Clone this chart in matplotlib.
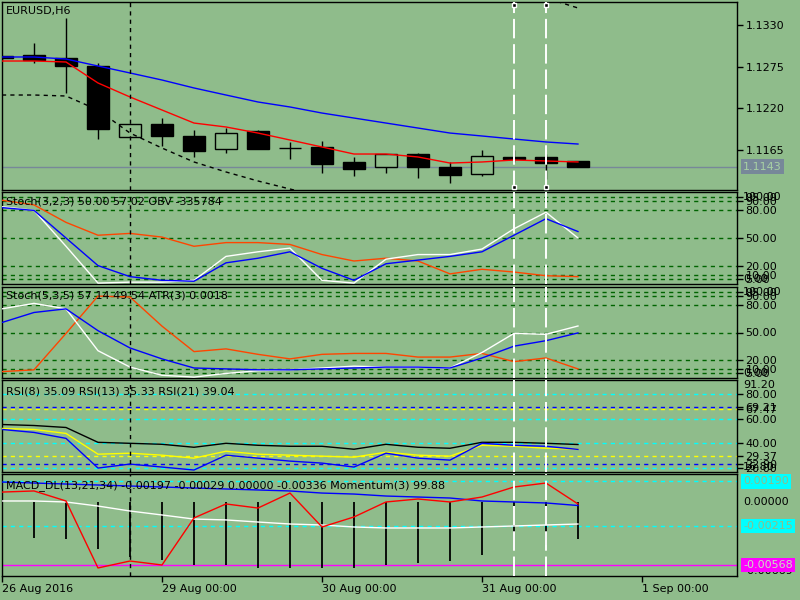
import matplotlib
matplotlib.use('Agg')
import matplotlib.pyplot as plt
import numpy as np

BG = '#8FBC8B'
nan = np.nan

# H6 bars, index 0 = 26 Aug 2016 00:00 ... index 18 = 31 Aug 18:00
opens = [1.12891, 1.12904, 1.12865, 1.12759, 1.11822, 1.11993, 1.11835, 1.11663, 1.11901, 1.11680,
         1.11690, 1.11492, 1.11426, 1.11597, 1.11426, 1.11333, 1.11558, 1.11558, 1.11505]
highs = [1.12891, 1.13063, 1.13393, 1.12799, 1.11993, 1.12072, 1.11914, 1.11940, 1.11914, 1.11756,
         1.11769, 1.11558, 1.11597, 1.11610, 1.11492, 1.11650, 1.11650, 1.11597, 1.11505]
lows = [1.12825, 1.12799, 1.12403, 1.11795, 1.11822, 1.11703, 1.11558, 1.11610, 1.11663, 1.11531,
        1.11346, 1.11307, 1.11346, 1.11280, 1.11214, 1.11307, 1.11492, 1.11267, 1.11430]
closes = [1.12865, 1.12838, 1.12759, 1.11927, 1.11993, 1.11835, 1.11637, 1.11874, 1.11663, 1.11676,
          1.11465, 1.11399, 1.11597, 1.11426, 1.11320, 1.11571, 1.11531, 1.11478, 1.11430]
ma_fast = [1.12825, 1.12825, 1.12812, 1.12535, 1.12350, 1.12178, 1.12006, 1.11954, 1.11874, 1.11782,
           1.11690, 1.11597, 1.11597, 1.11558, 1.11478, 1.11492, 1.11518, 1.11505, 1.11492]
ma_slow = [1.12878, 1.12878, 1.12851, 1.12759, 1.12667, 1.12574, 1.12469, 1.12376, 1.12284, 1.12218,
           1.12138, 1.12072, 1.12006, 1.11940, 1.11874, 1.11835, 1.11795, 1.11756, 1.11729]
env_lower = [1.12376, 1.12376, 1.12363, 1.12178, 1.11874, 1.11676, 1.11492, 1.11360, 1.11241, 1.11135,
             1.11030, nan, nan, nan, nan, nan, nan, nan, nan]
env_upper = [nan] * 17 + [1.13657, 1.13525]
last_price = 1.1143
price_ticks = [1.1165, 1.1220, 1.1275, 1.1330]

# Stoch(3,2,3) + OBV (OBV drawn in panel units)
st1_main = [84, 80, 41, 1, 2, 2, 4, 30, 35, 39, 4, 1, 27, 32, 32, 38, 60, 78, 50.00]
st1_sig = [83, 80, 50, 20, 8, 4, 3, 23, 28, 35, 17, 4, 22, 26, 30, 35, 53, 71, 57.02]
st1_obv = [91, 86, 67, 53, 55, 51, 41, 45, 45, 43, 32, 25, 28, 25, 11, 16, 13, 9, 8]

# Stoch(5,3,5) + ATR (ATR drawn in panel units)
st2_main = [76, 82, 76, 30, 12, 3, 1, 5, 8, 9, 11, 13, 12, 12, 11, 28, 49, 48, 57.14]
st2_sig = [61, 72, 76, 52, 33, 21, 11, 10, 9, 9, 10, 11, 12, 12, 11, 22, 35, 41, 49.54]
st2_atr = [7, 9, 49, 90, 89, 57, 29, 32, 26, 21, 26, 27, 27, 23, 23, 27, 18, 22, 10]
stoch_levels = [5, 10, 20, 50, 80, 90, 95]

# RSI(8), RSI(13), RSI(21)
rsi8 = [51.2, 48.8, 44.0, 20.0, 23.2, 20.8, 18.4, 30.4, 28.0, 25.6, 24.0, 20.8, 32.0, 28.0, 26.4,
        40.0, 38.4, 37.6, 35.09]
rsi13 = [52.0, 51.2, 48.0, 31.2, 32.0, 30.4, 28.0, 33.6, 31.2, 30.4, 29.6, 28.8, 32.8, 30.4, 29.6,
         38.4, 37.6, 36.0, 35.33]
rsi21 = [55.2, 54.4, 52.8, 40.8, 40.0, 39.2, 36.8, 40.0, 38.4, 37.6, 37.6, 35.2, 39.2, 36.8, 36.0,
         40.8, 40.8, 40.0, 39.04]
rsi_cyan = [20, 40, 60, 80]
rsi_yellow = [29.37, 67.47]
rsi_blue = [22.90, 69.21]

# MACD_DL(13,21,34) + Momentum(3) (momentum drawn in panel units)
macd_main = [0.00012, 0.00012, 0.00003, -0.00034, -0.00079, -0.00115, -0.00152, -0.00160, -0.00179,
             -0.00197, -0.00206, -0.00224, -0.00233, -0.00233, -0.00233, -0.00224, -0.00215, -0.00206,
             -0.00197]
macd_sig = [0.00184, 0.00175, 0.00166, 0.00157, 0.00148, 0.00139, 0.00130, 0.00121, 0.00112, 0.00103,
            0.00084, 0.00075, 0.00057, 0.00048, 0.00039, 0.00012, 0.00003, -0.00006, -0.00029]
macd_hist = [-0.00310, -0.00321, -0.00333, -0.00424, -0.00493, -0.00523, -0.00569, -0.00569, -0.00593,
             -0.00593, -0.00599, -0.00599, -0.00569, -0.00548, -0.00530, -0.00478, -0.00433, -0.00387,
             -0.00336]
momentum = [0.00093, 0.00103, 0.00012, -0.00596, -0.00533, -0.00569, -0.00142, -0.00015, -0.00052,
            0.00084, -0.00224, -0.00133, 0.00003, 0.00030, 0.00003, 0.00048, 0.00139, 0.00175, -0.00015]
macd_levels = [0.00190, -0.00215]
macd_low = -0.00568

date_ticks = [0, 5, 10, 15, 20]
date_labels = ['26 Aug 2016', '29 Aug 00:00', '30 Aug 00:00', '31 Aug 00:00', '1 Sep 00:00']

x = np.arange(len(closes))

fig = plt.figure(figsize=(8, 6), dpi=100, facecolor=BG)


def panel(top, bottom):
    ax = fig.add_axes([2 / 800, 1 - bottom / 600, 735 / 800, (bottom - top) / 600], facecolor=BG)
    for s in ax.spines.values():
        s.set_color('black')
        s.set_linewidth(1)
    ax.set_xlim(0, 22.97)
    ax.tick_params(axis='y', direction='out', length=4, width=1, labelsize=8, pad=2,
                   right=True, left=False, labelright=True, labelleft=False, colors='black')
    ax.tick_params(axis='x', bottom=False, labelbottom=False)
    return ax


def title(ax, txt, dy=-4):
    ax.annotate(txt, xy=(0, 1), xycoords='axes fraction', xytext=(4, dy),
                textcoords='offset pixels', ha='left', va='top', fontsize=8, zorder=10)


def side_label(ax, y, txt, fc=None, tc='black', va='center'):
    kw = dict(xy=(1, y), xycoords=('axes fraction', 'data'), xytext=(6, 0),
              textcoords='offset pixels', ha='left', va=va, fontsize=8, color=tc,
              annotation_clip=False, zorder=10)
    if fc:
        kw['bbox'] = dict(boxstyle='square,pad=0.2', fc=fc, ec='none')
    ax.annotate(txt, **kw)


level_ls = (0, (3, 3))

# ---- price panel
ax_p = panel(2, 190)
ax_p.set_ylim(1.11122, 1.13604)
ax_p.axhline(last_price, color='#778899', lw=1, zorder=1)
ax_p.vlines(x, lows, highs, color='black', lw=1, zorder=2)
o = np.array(opens)
c = np.array(closes)
bot = np.minimum(o, c)
hgt = np.maximum(np.abs(c - o), 0.00002)
faces = [BG if cc > oo else 'black' for oo, cc in zip(o, c)]
ax_p.bar(x, hgt, bottom=bot, width=0.68, color=faces, edgecolor='black', linewidth=1, zorder=3)
ax_p.plot(x, ma_slow, color='#0000FF', lw=1, zorder=4)
ax_p.plot(x, ma_fast, color='#FF0000', lw=1, zorder=4)
ax_p.plot(x, env_lower, color='black', lw=1, ls=level_ls, zorder=4)
ax_p.plot(x, env_upper, color='black', lw=1, ls=level_ls, zorder=4)
ax_p.set_yticks(price_ticks)
ax_p.set_yticklabels(['%.4f' % v for v in price_ticks])
side_label(ax_p, last_price, '%.4f' % last_price, fc='#778899', tc='#a8d0a4')
title(ax_p, 'EURUSD,H6')

# ---- stochastic panels
ax_s1 = panel(192, 284)
ax_s2 = panel(287, 378)
for ax, m, s, r, t in [(ax_s1, st1_main, st1_sig, st1_obv, 'Stoch(3,2,3) 50.00 57.02 OBV -335784'),
                       (ax_s2, st2_main, st2_sig, st2_atr, 'Stoch(5,3,5) 57.14 49.54 ATR(3) 0.0018')]:
    ax.set_ylim(0, 100)
    for lv in stoch_levels:
        ax.axhline(lv, color='#006400', lw=1, ls=level_ls, zorder=1)
    ax.plot(x, r, color='#FF4500', lw=1, zorder=3)
    ax.plot(x, s, color='#0000FF', lw=1, zorder=4)
    ax.plot(x, m, color='white', lw=1, zorder=3)
    ax.set_yticks(stoch_levels)
    ax.set_yticklabels(['%.2f' % v for v in stoch_levels])
    side_label(ax, 100, '100.00', va='top')
    side_label(ax, 0, '0.00', va='bottom')
    title(ax, t)

# ---- RSI panel
ax_r = panel(380, 472)
ax_r.set_ylim(16.8, 91.2)
for lv in rsi_cyan:
    ax_r.axhline(lv, color='#00FFFF', lw=1, ls=level_ls, zorder=1)
for lv in rsi_yellow:
    ax_r.axhline(lv, color='#FFFF00', lw=1, ls=level_ls, zorder=1)
for lv in rsi_blue:
    ax_r.axhline(lv, color='#0000FF', lw=1, ls=level_ls, zorder=1)
ax_r.plot(x, rsi21, color='black', lw=1, zorder=3)
ax_r.plot(x, rsi13, color='#FFFF00', lw=1, zorder=3)
ax_r.plot(x, rsi8, color='#0000FF', lw=1, zorder=4)
rt = sorted(rsi_cyan + rsi_yellow + rsi_blue)
ax_r.set_yticks(rt)
ax_r.set_yticklabels(['%.2f' % v for v in rt])
side_label(ax_r, 91.2, '91.20', va='top')
side_label(ax_r, 16.8, '16.80', va='bottom')
title(ax_r, 'RSI(8) 35.09 RSI(13) 35.33 RSI(21) 39.04', dy=-6)

# ---- MACD panel
ax_m = panel(474, 576)
ax_m.set_ylim(-0.00669, 0.00257)
for lv in macd_levels:
    ax_m.axhline(lv, color='#00FFFF', lw=1, ls=level_ls, zorder=1)
ax_m.axhline(macd_low, color='#FF00FF', lw=1, zorder=1)
ax_m.vlines(x, 0, macd_hist, color='black', lw=1.3, zorder=2)
ax_m.plot(x, macd_main, color='white', lw=1, zorder=3)
ax_m.plot(x, macd_sig, color='#0000FF', lw=1, zorder=3)
ax_m.plot(x, momentum, color='#FF0000', lw=1, zorder=4)
ax_m.set_yticks([])
side_label(ax_m, -0.00669, '-0.00669', va='bottom')
side_label(ax_m, 0.0, '0.00000')
side_label(ax_m, macd_levels[0], '%.5f' % macd_levels[0], fc='#00FFFF', tc=BG)
side_label(ax_m, macd_levels[1], '%.5f' % macd_levels[1], fc='#00FFFF', tc=BG)
side_label(ax_m, macd_low, '%.5f' % macd_low, fc='#FF00FF', tc='#c8e0c0')
title(ax_m, 'MACD_DL(13,21,34) -0.00197 -0.00029 0.00000 -0.00336 Momentum(3) 99.88', dy=-6)
ax_m.set_xticks(date_ticks)
ax_m.set_xticklabels(date_labels, fontsize=8)
ax_m.tick_params(axis='x', bottom=True, labelbottom=True, direction='out', length=4, width=1, pad=2)
for lab in ax_m.get_xticklabels():
    lab.set_ha('left')

# ---- vertical lines through all panels
for ax in [ax_p, ax_s1, ax_s2, ax_r, ax_m]:
    ax.axvline(4, color='black', lw=1, ls=level_ls, zorder=5)
    ax.axvline(16, color='white', lw=1.4, ls=(0, (10, 3)), zorder=5)
    ax.axvline(17, color='white', lw=1.4, ls=(0, (10, 3)), zorder=5)
for xv in [16, 17]:
    ax_p.plot([xv, xv], [0.985, 0.015], transform=ax_p.get_xaxis_transform(), ls='none',
              marker='s', ms=3.5, mfc='black', mec='white', mew=1, zorder=6, clip_on=False)

fig.savefig('out.png', dpi=100, facecolor=BG)
